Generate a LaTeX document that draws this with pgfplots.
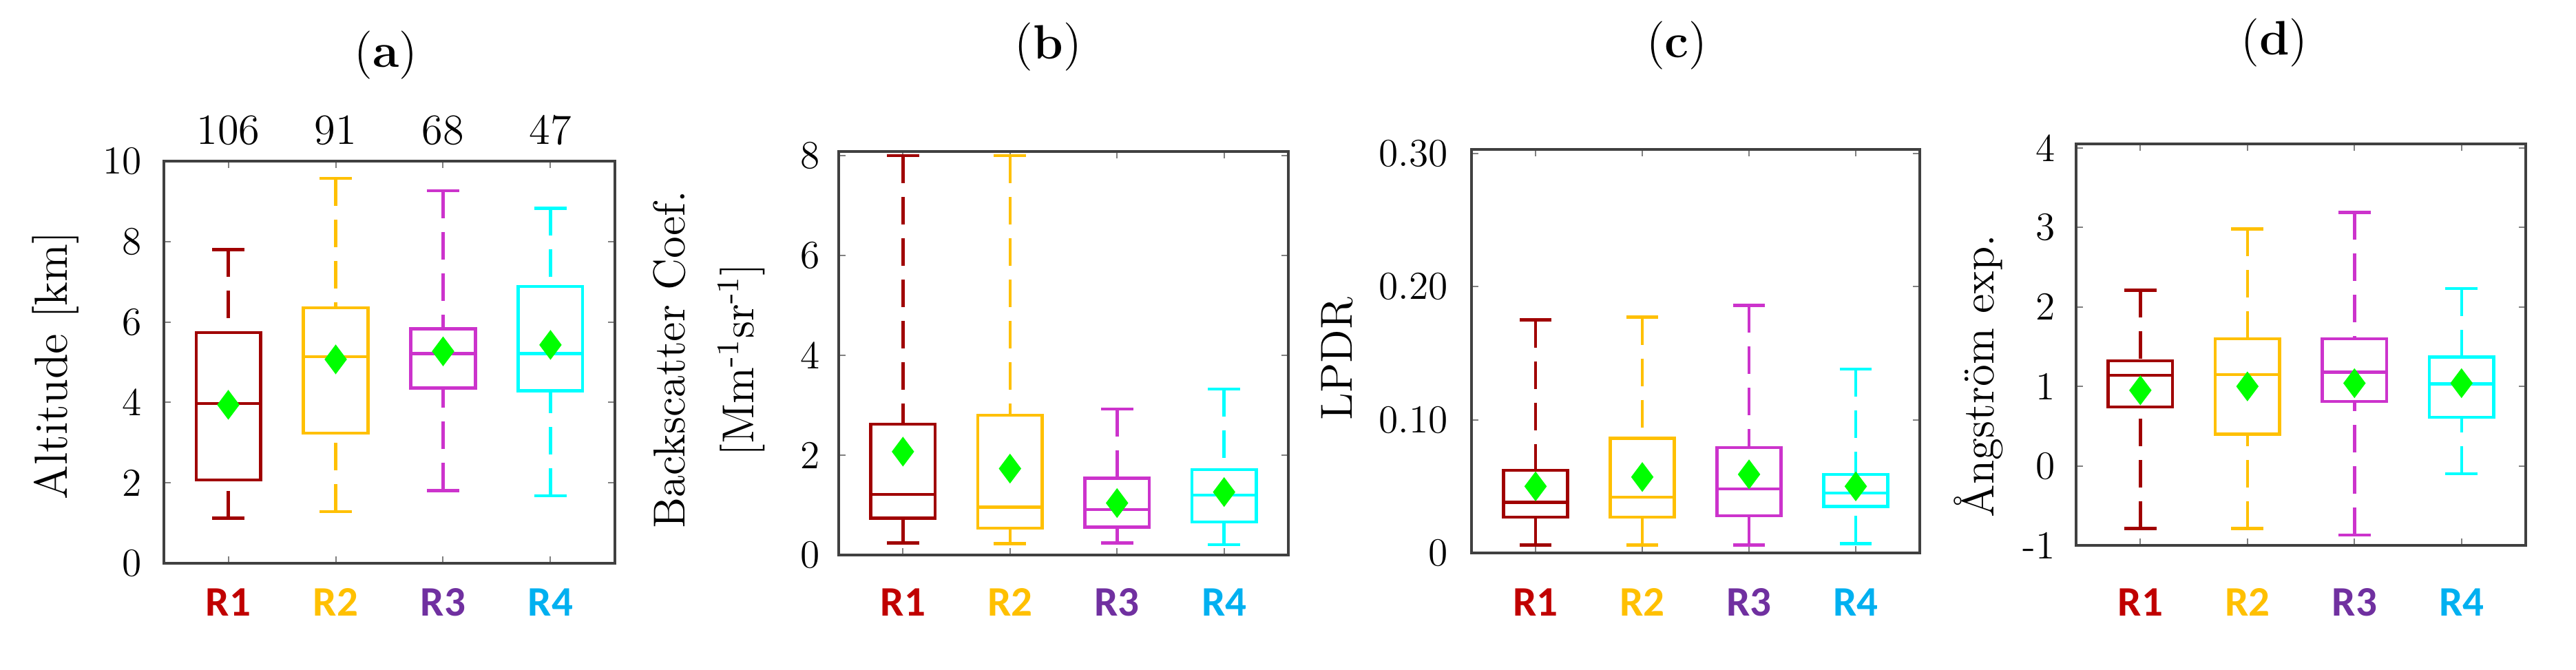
\documentclass[border=0pt]{standalone}
\usepackage{fontspec}
\usepackage{pgfplots}
\pgfplotsset{compat=1.18}
\usepgfplotslibrary{statistics}
\newfontfamily\calibri{Carlito}
\definecolor{bR1}{HTML}{A00000}
\definecolor{bR2}{HTML}{FFC000}
\definecolor{bR3}{HTML}{CC33CC}
\definecolor{bR4}{HTML}{00FFFF}
\definecolor{tR1}{HTML}{C00000}
\definecolor{tR2}{HTML}{FFC000}
\definecolor{tR3}{HTML}{7030A0}
\definecolor{tR4}{HTML}{00B0F0}
\definecolor{mgreen}{HTML}{00FF00}
\definecolor{axgray}{HTML}{404040}

\pgfplotsset{
  every axis title/.style={},
  boxplot/draw/lower whisker/.code={%
    \draw[dash pattern=on 8pt off 4pt] (boxplot cs:\pgfplotsboxplotvalue{lower whisker}) -- (boxplot cs:\pgfplotsboxplotvalue{lower quartile});
    \draw (boxplot whisker cs:\pgfplotsboxplotvalue{lower whisker},0) -- (boxplot whisker cs:\pgfplotsboxplotvalue{lower whisker},1);
  },
  boxplot/draw/upper whisker/.code={%
    \draw[dash pattern=on 8pt off 4pt] (boxplot cs:\pgfplotsboxplotvalue{upper whisker}) -- (boxplot cs:\pgfplotsboxplotvalue{upper quartile});
    \draw (boxplot whisker cs:\pgfplotsboxplotvalue{upper whisker},0) -- (boxplot whisker cs:\pgfplotsboxplotvalue{upper whisker},1);
  },
  panel/.style={
    scale only axis, anchor=south west,
    xmin=0.4, xmax=4.6,
    xtick={1,2,3,4},
    xticklabels={\textcolor{tR1}{R1},\textcolor{tR2}{R2},\textcolor{tR3}{R3},\textcolor{tR4}{R4}},
    xticklabel style={font=\calibri\bfseries\fontsize{12.2}{14}\selectfont, anchor=base},
    yticklabel style={font=\fontsize{11.5}{13}\selectfont},
    ylabel style={font=\fontsize{13}{15}\selectfont},
    title style={font=\fontsize{14}{16}\selectfont, anchor=center},
    axis line style={axgray, line width=0.8pt},
    tick style={gray, line width=0.4pt},
    major tick length=2pt,
    tick align=inside,
    clip=false,
    /pgf/number format/assume math mode=true,
    boxplot/draw direction=y,
    boxplot/box extend=0.6,
    boxplot/whisker extend=0.3,
  },
  meanmk/.style={only marks, mark=diamond*, mark size=4pt, draw=mgreen, fill=mgreen},
}

\newcommand{\bx}[7]{\addplot[draw=#2, line width=0.9pt, boxplot prepared={draw position=#1, lower whisker=#3, lower quartile=#4, median=#5, upper quartile=#6, upper whisker=#7}] coordinates {};}

\begin{document}
\begin{tikzpicture}
\useasboundingbox (0,0) rectangle (748.2pt,194.6pt);

% (a)
\begin{axis}[panel, at={(47.6pt,31.0pt)}, width=131pt, height=116.8pt,
  ymin=0, ymax=10, ytick={0,2,4,6,8,10},
  ylabel={Altitude [km]},
  ylabel style={at={(axis description cs:-0.240,0.492)}, anchor=center, font=\fontsize{13.5}{15}\selectfont},
  title={(\textbf{a})}, title style={at={(axis description cs:0.492,1.263)}},
  xticklabel style={yshift=-15.3pt}, yticklabel style={xshift=-2.9pt}]
\bx{1}{bR1}{1.12}{2.07}{3.97}{5.74}{7.80}
\bx{2}{bR2}{1.28}{3.24}{5.14}{6.35}{9.57}
\bx{3}{bR3}{1.81}{4.36}{5.21}{5.83}{9.26}
\bx{4}{bR4}{1.68}{4.29}{5.21}{6.88}{8.83}
\addplot[meanmk] coordinates {(1,3.94) (2,5.07) (3,5.27) (4,5.43)};
\node[font=\fontsize{12.5}{14}\selectfont, yshift=9pt] at (axis cs:1,10) {106};
\node[font=\fontsize{12.5}{14}\selectfont, yshift=9pt] at (axis cs:2,10) {91};
\node[font=\fontsize{12.5}{14}\selectfont, yshift=9pt] at (axis cs:3,10) {68};
\node[font=\fontsize{12.5}{14}\selectfont, yshift=9pt] at (axis cs:4,10) {47};
\end{axis}

% (b)
\begin{axis}[panel, at={(243.6pt,33.4pt)}, width=130.6pt, height=117.2pt,
  ymin=0, ymax=8.08, ytick={0,2,4,6,8},
  ylabel={Backscatter Coef.\\{}[Mm\textsuperscript{-1}sr\textsuperscript{-1}]},
  ylabel style={at={(axis description cs:-0.288,0.484)}, anchor=center, align=center, font=\fontsize{13}{20}\selectfont},
  title={(\textbf{b})}, title style={at={(axis description cs:0.466,1.259)}},
  xticklabel style={yshift=-17.7pt}, yticklabel style={xshift=-2pt}]
\bx{1}{bR1}{0.24}{0.74}{1.21}{2.62}{8.0}
\bx{2}{bR2}{0.23}{0.54}{0.96}{2.80}{8.0}
\bx{3}{bR3}{0.24}{0.56}{0.91}{1.54}{2.92}
\bx{4}{bR4}{0.21}{0.66}{1.20}{1.71}{3.32}
\addplot[meanmk] coordinates {(1,2.07) (2,1.73) (3,1.04) (4,1.26)};
\end{axis}

% (c)
\begin{axis}[panel, at={(427.4pt,34.0pt)}, width=130.2pt, height=117.2pt,
  ymin=0, ymax=0.303, ytick={0,0.1,0.2,0.3}, yticklabels={0,0.10,0.20,0.30},
  ylabel={LPDR},
  ylabel style={at={(axis description cs:-0.300,0.481)}, anchor=center},
  title={(\textbf{c})}, title style={at={(axis description cs:0.458,1.257)}},
  xticklabel style={yshift=-18.3pt}, yticklabel style={xshift=-3.3pt}]
\bx{1}{bR1}{0.006}{0.027}{0.038}{0.062}{0.175}
\bx{2}{bR2}{0.006}{0.027}{0.042}{0.086}{0.177}
\bx{3}{bR3}{0.006}{0.028}{0.048}{0.079}{0.186}
\bx{4}{bR4}{0.007}{0.035}{0.045}{0.059}{0.138}
\addplot[meanmk] coordinates {(1,0.050) (2,0.057) (3,0.059) (4,0.050)};
\end{axis}

% (d)
\begin{axis}[panel, at={(603pt,36.2pt)}, width=130.6pt, height=116.6pt,
  ymin=-1, ymax=4.05, ytick={-1,0,1,2,3,4}, yticklabels={-1,0,1,2,3,4},
  ylabel={Ångström exp.},
  ylabel style={at={(axis description cs:-0.217,0.422)}, anchor=center},
  title={(\textbf{d})}, title style={at={(axis description cs:0.441,1.252)}},
  xticklabel style={yshift=-20.5pt}, yticklabel style={xshift=-2.5pt}]
\bx{1}{bR1}{-0.79}{0.74}{1.14}{1.32}{2.21}
\bx{2}{bR2}{-0.79}{0.40}{1.15}{1.60}{2.98}
\bx{3}{bR3}{-0.87}{0.81}{1.18}{1.60}{3.19}
\bx{4}{bR4}{-0.10}{0.61}{1.03}{1.37}{2.23}
\addplot[meanmk] coordinates {(1,0.95) (2,1.00) (3,1.04) (4,1.04)};
\end{axis}
\end{tikzpicture}
\end{document}
